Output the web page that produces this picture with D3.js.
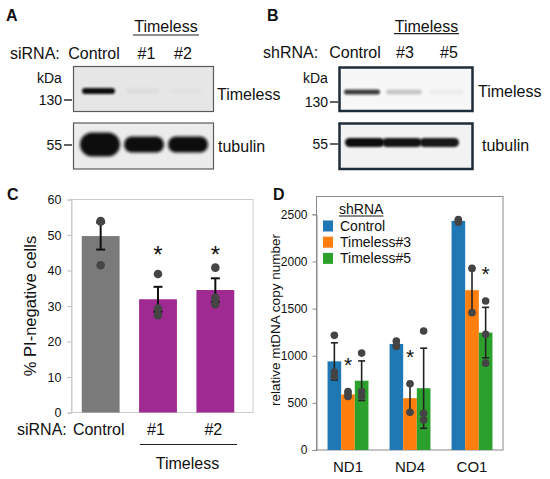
<!DOCTYPE html>
<html lang="en">
<head>
<meta charset="UTF-8">
<title>Timeless knockdown figure</title>
<script src="https://d3js.org/d3.v7.min.js"></script>
<style>
  body { margin: 0; background: #fff; }
  svg { display: block; font-family: "Liberation Sans", Arial, Helvetica, sans-serif; }
</style>
</head>
<body>
<svg id="fig" width="550" height="479"></svg>
<script>
// ---- blots: relative band intensity per lane
const lanesA = ['Control', '#1', '#2'];
const timelessA = [1.0, 0.035, 0.015];
const tubulinA = [1.5, 1.0, 1.0];
const lanesB = ['Control', '#3', '#5'];
const timelessB = [0.8, 0.2, 0.04];
const tubulinB = [1.0, 0.97, 0.95];

// ---- panel C: % PI-negative cells
const groupsC = ['Control', '#1', '#2'];
const meanC = [49.7, 31.9, 34.5];
const errC = [3.8, 3.5, 3.3];
const dotsC = [[53.8, 41.5, 53.9], [39.0, 29.3, 27.4], [40.8, 32.3, 30.5]];
const starC = ['#1', '#2'];
const ticksC = [0, 10, 20, 30, 40, 50, 60];

// ---- panel D: relative mtDNA copy number
const genesD = ['ND1', 'ND4', 'CO1'];
const seriesD = ['Control', 'Timeless#3', 'Timeless#5'];
const meanD = [[940, 590, 735], [1125, 550, 655], [2430, 1695, 1245]];
const errD = [[197, 28, 210], [30, 150, 425], [15, 232, 268]];
const dotsD = [
  [[1216, 826, 780], [620, 590, 567], [1028, 620, 567]],
  [[1155, 1099, 1110], [702, 400], [1262, 389, 319]],
  [[2445, 2430, 2415], [1926, 1457], [1581, 1227, 921]]
];
const starD = [['ND1', 'Timeless#3'], ['ND4', 'Timeless#3'], ['CO1', 'Timeless#5']];
const ticksD = [0, 500, 1000, 1500, 2000, 2500];

const ink = '#111';
const svg = d3.select('#fig');

const defs = svg.append('defs');
[['soft', 1.1], ['softer', 1.5]].forEach(([id, s]) => {
  defs.append('filter').attr('id', id)
    .attr('x', '-20%').attr('y', '-150%').attr('width', '140%').attr('height', '400%')
    .append('feGaussianBlur').attr('stdDeviation', s);
});

function txt(g, x, y, s, o = {}) {
  return g.append('text').attr('x', x).attr('y', y).text(s)
    .attr('font-size', o.size || 16)
    .attr('font-weight', o.weight || 'normal')
    .attr('text-anchor', o.anchor || 'start')
    .attr('fill', o.fill || ink);
}

function hline(g, x1, x2, y, w = 1.2, c = '#222') {
  g.append('line').attr('x1', x1).attr('x2', x2).attr('y1', y).attr('y2', y)
    .attr('stroke', c).attr('stroke-width', w);
}

function frame(g, x, y, w, h, fill, stroke, sw) {
  g.append('rect').attr('x', x).attr('y', y).attr('width', w).attr('height', h)
    .attr('fill', fill).attr('stroke', stroke).attr('stroke-width', sw);
}

function bands(g, lanes, values, lane, cy, height, filter, inL, inR) {
  g.append('g').selectAll('rect').data(values).join('rect')
    .attr('x', (d, i) => lane(lanes[i]) + inL)
    .attr('width', lane.bandwidth() - inL - inR)
    .attr('y', d => cy - height(d) / 2)
    .attr('height', d => height(d))
    .attr('rx', d => height(d) / 2)
    .attr('fill', '#0e0e0e')
    .attr('opacity', d => Math.min(1, d))
    .attr('filter', `url(#${filter})`);
}

// ================= Panel A =================
const gA = svg.append('g');
txt(gA, 6, 21, 'A', { weight: 'bold' });
txt(gA, 166, 31.7, 'Timeless', { anchor: 'middle' });
hline(gA, 133, 199, 35);
txt(gA, 10, 59.3, 'siRNA:');
txt(gA, 94, 59.3, 'Control', { anchor: 'middle' });
txt(gA, 146.5, 59.3, '#1', { anchor: 'middle' });
txt(gA, 183, 59.3, '#2', { anchor: 'middle' });

frame(gA, 73.5, 66.5, 140, 45, '#e6e6e6', '#5a5a5a', 1.2);
frame(gA, 73.5, 123, 140, 46, '#ececec', '#5a5a5a', 1.2);
const laneA = d3.scaleBand().domain(lanesA).range([78, 210]);
bands(gA, lanesA, timelessA, laneA, 91, () => 6, 'soft', 4, 7);
bands(gA, lanesA, tubulinA, laneA, 144.5, d => 16 * d, 'softer', 2, 2);

txt(gA, 37, 83, 'kDa', { size: 14 });
txt(gA, 62, 105, '130', { size: 14, anchor: 'end' });
hline(gA, 64, 72, 100, 1.4);
txt(gA, 62, 150, '55', { size: 14, anchor: 'end' });
hline(gA, 64, 72, 145, 1.4);
txt(gA, 217, 100, 'Timeless');
txt(gA, 218, 152, 'tubulin');

// ================= Panel B =================
const gB = svg.append('g');
txt(gB, 267, 21, 'B', { weight: 'bold' });
txt(gB, 426.5, 31.7, 'Timeless', { anchor: 'middle' });
hline(gB, 394, 459, 33.6);
txt(gB, 263, 58.3, 'shRNA:');
txt(gB, 355, 58.3, 'Control', { anchor: 'middle' });
txt(gB, 405, 58.3, '#3', { anchor: 'middle' });
txt(gB, 449, 58.3, '#5', { anchor: 'middle' });

frame(gB, 339.5, 67.5, 133, 43.5, '#f7f7f7', '#1f2d3b', 2.5);
frame(gB, 339.5, 123.5, 133, 45.5, '#f2f2f2', '#1f2d3b', 2.5);
const laneB = d3.scaleBand().domain(lanesB).range([341, 467]);
bands(gB, lanesB, timelessB, laneB, 92, () => 5, 'soft', 3, 3);
const laneB2 = d3.scaleBand().domain(lanesB).range([346, 458]);
bands(gB, lanesB, tubulinB, laneB2, 142.5, () => 9, 'soft', -1, -1);

txt(gB, 303, 83, 'kDa', { size: 14 });
txt(gB, 328, 107, '130', { size: 14, anchor: 'end' });
hline(gB, 330, 338, 102, 1.4);
txt(gB, 328, 149, '55', { size: 14, anchor: 'end' });
hline(gB, 330, 338, 144, 1.4);
txt(gB, 478, 97, 'Timeless');
txt(gB, 482, 151, 'tubulin');

// ================= Panel C =================
const gC = svg.append('g');
txt(gC, 7, 200, 'C', { weight: 'bold' });

const cX = d3.scaleBand().domain(groupsC).range([72, 244]).paddingInner(0.34).paddingOuter(0.17);
const cY = d3.scaleLinear().domain([0, 60]).range([412.5, 199.5]);
const cColor = d3.scaleOrdinal().domain(groupsC).range(['#7a7a7a', '#9f2a91', '#9f2a91']);

gC.append('rect').attr('x', 71.5).attr('y', 199.5).attr('width', 181.5).attr('height', 213)
  .attr('fill', 'none').attr('stroke', '#cccccc');
const axC = gC.append('g').attr('transform', 'translate(71.5,0)')
  .call(d3.axisLeft(cY).tickValues(ticksC).tickSize(4).tickPadding(6));
axC.attr('font-family', null);
axC.select('.domain').attr('stroke', '#cccccc');
axC.selectAll('.tick line').attr('stroke', '#bbbbbb');
axC.selectAll('.tick text').attr('font-size', 12.5).attr('fill', ink);

gC.append('g').selectAll('rect').data(groupsC).join('rect')
  .attr('x', d => cX(d)).attr('width', cX.bandwidth())
  .attr('y', (d, i) => cY(meanC[i])).attr('height', (d, i) => cY(0) - cY(meanC[i]))
  .attr('fill', d => cColor(d));

const ebC = gC.append('g').attr('stroke', ink).attr('stroke-width', 2);
groupsC.forEach((g, i) => {
  const cx = cX(g) + cX.bandwidth() / 2;
  const lo = cY(meanC[i] - errC[i]), hi = cY(meanC[i] + errC[i]);
  ebC.append('line').attr('x1', cx).attr('x2', cx).attr('y1', lo).attr('y2', hi);
  [lo, hi].forEach(y => ebC.append('line').attr('x1', cx - 4.5).attr('x2', cx + 4.5).attr('y1', y).attr('y2', y));
});

groupsC.forEach((g, i) => {
  gC.append('g').selectAll('circle').data(dotsC[i]).join('circle')
    .attr('cx', cX(g) + cX.bandwidth() / 2).attr('cy', d => cY(d)).attr('r', 4.3)
    .attr('fill', '#454545');
});

const starLevelC = d3.max(starC, g => d3.max(dotsC[groupsC.indexOf(g)]));
starC.forEach(g => {
  txt(gC, cX(g) + cX.bandwidth() / 2, cY(starLevelC) - 18 + 13.8, '*', { size: 24, anchor: 'middle' });
});

gC.append('text').attr('transform', 'translate(36,306) rotate(-90)')
  .attr('text-anchor', 'middle').attr('font-size', 16.5).attr('fill', ink)
  .text('% PI-negative cells');

txt(gC, 17, 435, 'siRNA:');
groupsC.forEach(g => txt(gC, cX(g) + cX.bandwidth() / 2 - 2, 435, g, { anchor: 'middle' }));
hline(gC, 140, 237, 444.5);
txt(gC, 187.5, 469, 'Timeless', { anchor: 'middle' });

// ================= Panel D =================
const gD = svg.append('g');
txt(gD, 273, 200, 'D', { weight: 'bold' });

const dX = d3.scaleBand().domain(genesD).range([317, 503]).paddingInner(0.34).paddingOuter(0.17);
const dS = d3.scaleBand().domain(seriesD).range([0, dX.bandwidth()]);
const dY = d3.scaleLinear().domain([0, 2500]).range([450, 214.3]);
const dColor = d3.scaleOrdinal().domain(seriesD).range(['#1f77b4', '#ff7f0e', '#2ca02c']);

gD.append('rect').attr('x', 316.5).attr('y', 196.5).attr('width', 186.5).attr('height', 253.5)
  .attr('fill', 'none').attr('stroke', '#8a8a8a');
const axD = gD.append('g').attr('transform', 'translate(316.5,0)')
  .call(d3.axisLeft(dY).tickValues(ticksD).tickFormat(d3.format('d')).tickSize(4).tickPadding(5));
axD.attr('font-family', null);
axD.select('.domain').attr('stroke', '#8a8a8a');
axD.selectAll('.tick line').attr('stroke', '#8a8a8a');
axD.selectAll('.tick text').attr('font-size', 12).attr('fill', ink);

const cxD = (g, s) => dX(g) + dS(s) + dS.bandwidth() / 2;

genesD.forEach((g, gi) => {
  gD.append('g').selectAll('rect').data(seriesD).join('rect')
    .attr('x', s => dX(g) + dS(s)).attr('width', dS.bandwidth())
    .attr('y', (s, si) => dY(meanD[gi][si]))
    .attr('height', (s, si) => dY(0) - dY(meanD[gi][si]))
    .attr('fill', s => dColor(s));
});

const ebD = gD.append('g').attr('stroke', '#222').attr('stroke-width', 1.6);
genesD.forEach((g, gi) => seriesD.forEach((s, si) => {
  const cx = cxD(g, s);
  const lo = dY(meanD[gi][si] - errD[gi][si]), hi = dY(meanD[gi][si] + errD[gi][si]);
  ebD.append('line').attr('x1', cx).attr('x2', cx).attr('y1', lo).attr('y2', hi);
  [lo, hi].forEach(y => ebD.append('line').attr('x1', cx - 3.5).attr('x2', cx + 3.5).attr('y1', y).attr('y2', y));
}));

genesD.forEach((g, gi) => seriesD.forEach((s, si) => {
  gD.append('g').selectAll('circle').data(dotsD[gi][si]).join('circle')
    .attr('cx', cxD(g, s)).attr('cy', d => dY(d)).attr('r', 3.8)
    .attr('fill', '#444');
}));

starD.forEach(([g, s]) => {
  const gi = genesD.indexOf(g), si = seriesD.indexOf(s);
  const top = Math.max(d3.max(dotsD[gi][si]), meanD[gi][si] + errD[gi][si]);
  txt(gD, cxD(g, s), dY(top) - 32 + 12, '*', { size: 21, anchor: 'middle' });
});

genesD.forEach(g => txt(gD, dX(g) + dX.bandwidth() / 2, 472, g, { size: 15, anchor: 'middle' }));

gD.append('text').attr('transform', 'translate(280,320) rotate(-90)')
  .attr('text-anchor', 'middle').attr('font-size', 13.5).attr('fill', ink)
  .text('relative mtDNA copy number');

// legend
const leg = gD.append('g');
const title = txt(leg, 339, 214, 'shRNA', { size: 14 });
hline(leg, 339, 339 + title.node().getComputedTextLength(), 216, 1, ink);
seriesD.forEach((s, i) => {
  const cy = 226 + i * 16.2;
  leg.append('rect').attr('x', 323).attr('y', cy - 5.5).attr('width', 10).attr('height', 11).attr('fill', dColor(s));
  txt(leg, 340, cy + 5, s, { size: 14 });
});
</script>
</body>
</html>
